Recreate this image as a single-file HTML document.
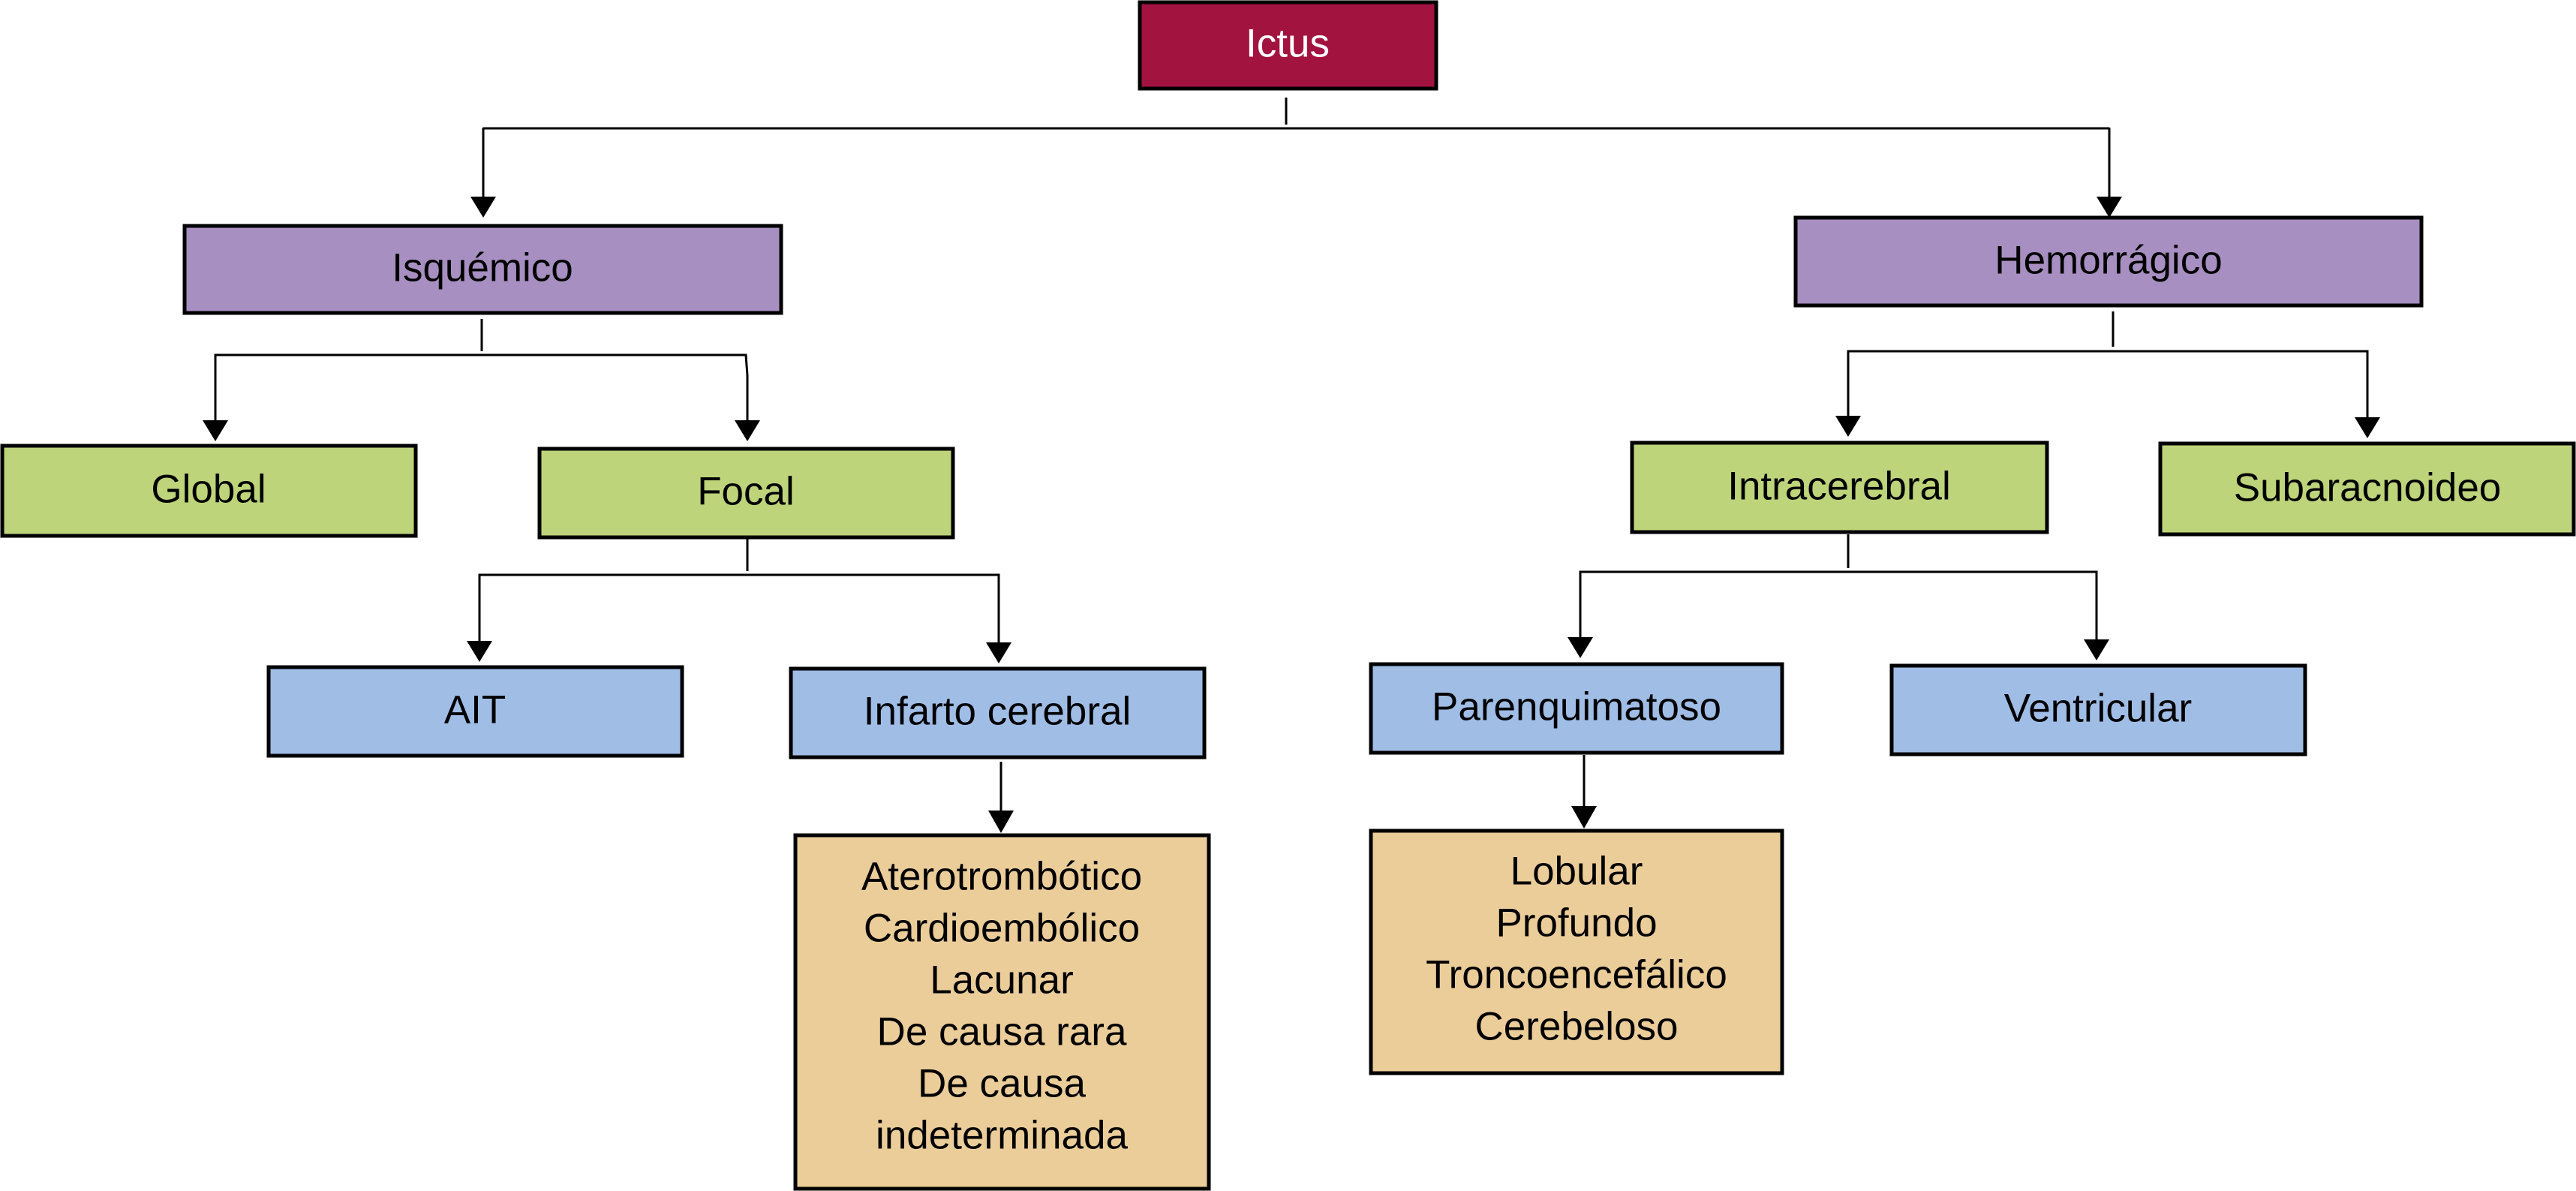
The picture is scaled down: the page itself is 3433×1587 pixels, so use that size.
<!DOCTYPE html>
<html><head><meta charset="utf-8"><style>
html,body{margin:0;padding:0;background:#fff;}
svg{display:block;}
text{font-family:"Liberation Sans",Arial,sans-serif;font-size:53px;text-anchor:middle;dominant-baseline:central;fill:#000;}
</style></head><body>
<svg width="3433" height="1587" viewBox="0 0 3433 1587" xmlns="http://www.w3.org/2000/svg">
<g stroke="#000" stroke-width="3" fill="none">
<line x1="1714" y1="130" x2="1714" y2="166"/>
<polyline points="644,171 2811,171"/>
<line x1="644" y1="170" x2="644" y2="262"/><path d="M627,262 L661,262 L644,290 Z" fill="#000" stroke="none"/>
<line x1="2811" y1="170" x2="2811" y2="262"/><path d="M2794,262 L2828,262 L2811,290 Z" fill="#000" stroke="none"/>
<line x1="642" y1="425" x2="642" y2="468"/>
<polyline points="287,500 287,473 994,473 996,500"/>
<line x1="287" y1="500" x2="287" y2="560"/><path d="M270,560 L304,560 L287,588 Z" fill="#000" stroke="none"/>
<line x1="996" y1="500" x2="996" y2="560"/><path d="M979,560 L1013,560 L996,588 Z" fill="#000" stroke="none"/>
<line x1="2816" y1="415" x2="2816" y2="462"/>
<polyline points="2463,500 2463,468 3155,468 3155,500"/>
<line x1="2463" y1="500" x2="2463" y2="554"/><path d="M2446,554 L2480,554 L2463,582 Z" fill="#000" stroke="none"/>
<line x1="3155" y1="500" x2="3155" y2="556"/><path d="M3138,556 L3172,556 L3155,584 Z" fill="#000" stroke="none"/>
<line x1="996" y1="718" x2="996" y2="761"/>
<polyline points="639,800 639,766 1331,766 1331,800"/>
<line x1="639" y1="800" x2="639" y2="854"/><path d="M622,854 L656,854 L639,882 Z" fill="#000" stroke="none"/>
<line x1="1331" y1="800" x2="1331" y2="856"/><path d="M1314,856 L1348,856 L1331,884 Z" fill="#000" stroke="none"/>
<line x1="2463" y1="712" x2="2463" y2="757"/>
<polyline points="2106,800 2106,762 2794,762 2794,800"/>
<line x1="2106" y1="800" x2="2106" y2="849"/><path d="M2089,849 L2123,849 L2106,877 Z" fill="#000" stroke="none"/>
<line x1="2794" y1="800" x2="2794" y2="852"/><path d="M2777,852 L2811,852 L2794,880 Z" fill="#000" stroke="none"/>
<line x1="1334" y1="1015" x2="1334" y2="1080"/><path d="M1317,1080 L1351,1080 L1334,1110 Z" fill="#000" stroke="none"/>
<line x1="2111" y1="1006" x2="2111" y2="1074"/><path d="M2094,1074 L2128,1074 L2111,1104 Z" fill="#000" stroke="none"/>
</g>
<g stroke="#000" stroke-width="5">
<rect x="1519" y="3" width="395" height="115" fill="#A31340"/>
<rect x="246" y="301" width="795" height="116" fill="#A78FC1"/>
<rect x="2393" y="290" width="834" height="117" fill="#A78FC1"/>
<rect x="3" y="594" width="551" height="120" fill="#BED47A"/>
<rect x="719" y="598" width="551" height="118" fill="#BED47A"/>
<rect x="2175" y="590" width="553" height="119" fill="#BED47A"/>
<rect x="2879" y="591" width="551" height="121" fill="#BED47A"/>
<rect x="358" y="889" width="551" height="118" fill="#A0BDE6"/>
<rect x="1054" y="891" width="551" height="118" fill="#A0BDE6"/>
<rect x="1827" y="885" width="548" height="118" fill="#A0BDE6"/>
<rect x="2521" y="887" width="551" height="118" fill="#A0BDE6"/>
<rect x="1060" y="1113" width="551" height="471" fill="#EBCD9A"/>
<rect x="1827" y="1107" width="548" height="323" fill="#EBCD9A"/>
</g>
<text x="1716" y="58" style="fill:#fff">Ictus</text>
<text x="643" y="357">Isquémico</text>
<text x="2810" y="347">Hemorrágico</text>
<text x="278" y="652">Global</text>
<text x="994" y="655">Focal</text>
<text x="2451" y="648">Intracerebral</text>
<text x="3155" y="650">Subaracnoideo</text>
<text x="633" y="946">AIT</text>
<text x="1329" y="948">Infarto cerebral</text>
<text x="2101" y="942">Parenquimatoso</text>
<text x="2796" y="944">Ventricular</text>
<text x="1335" y="1168">Aterotrombótico</text>
<text x="1335" y="1237">Cardioembólico</text>
<text x="1335" y="1306">Lacunar</text>
<text x="1335" y="1375">De causa rara</text>
<text x="1335" y="1444">De causa</text>
<text x="1335" y="1513">indeterminada</text>
<text x="2101" y="1161">Lobular</text>
<text x="2101" y="1230">Profundo</text>
<text x="2101" y="1299">Troncoencefálico</text>
<text x="2101" y="1368">Cerebeloso</text>
</svg>
</body></html>
